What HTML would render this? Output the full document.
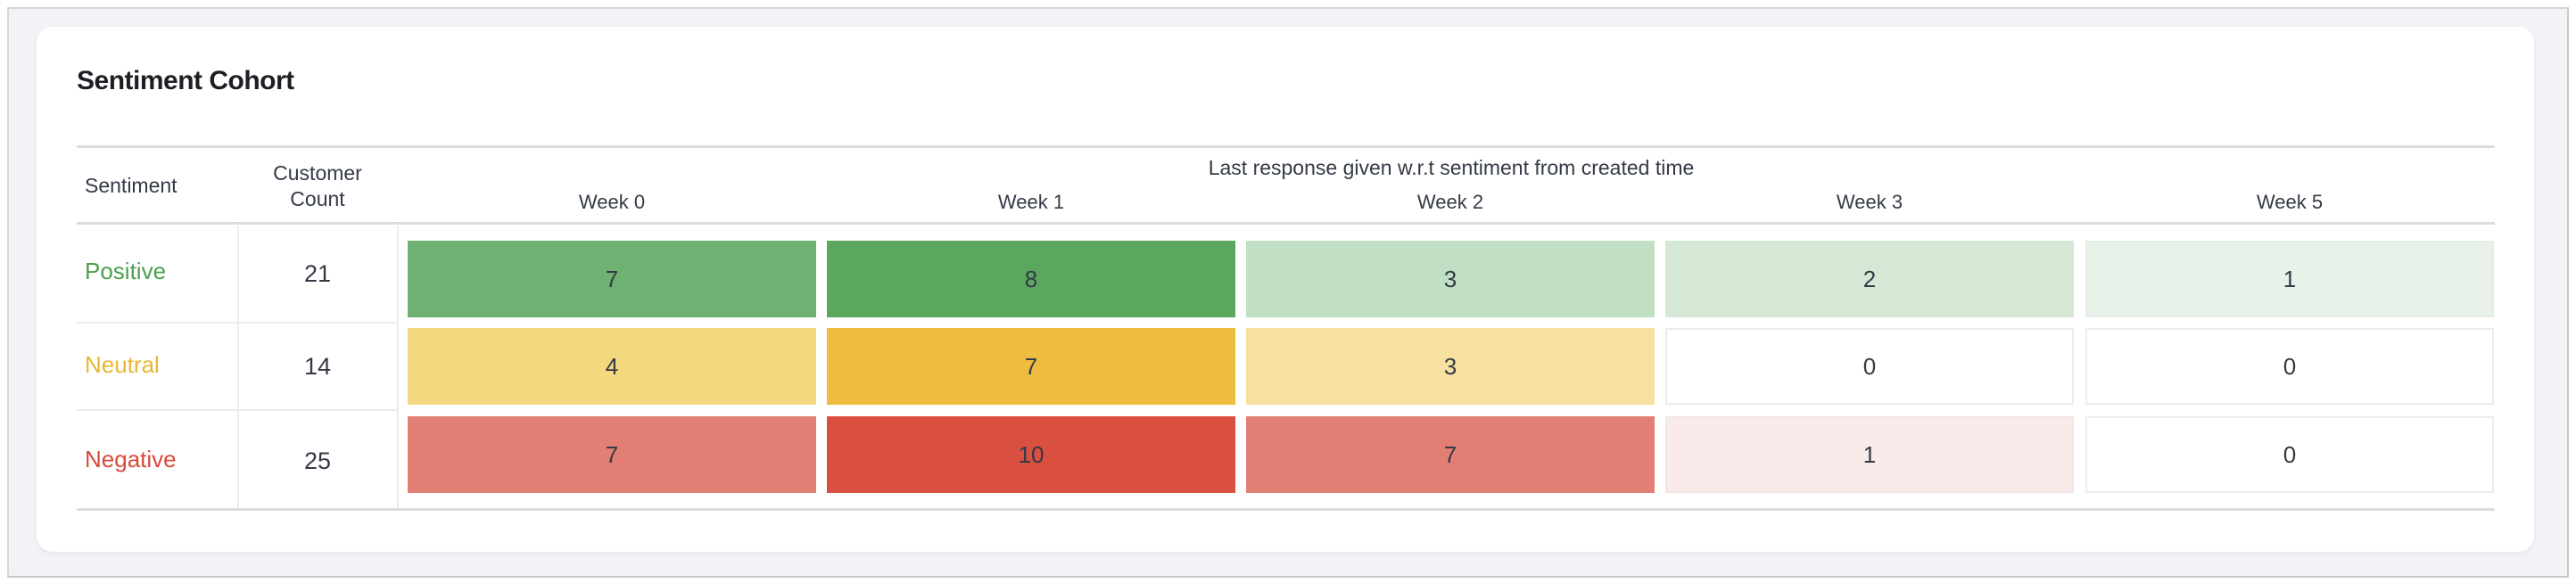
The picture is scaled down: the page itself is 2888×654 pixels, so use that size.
<!DOCTYPE html>
<html><head><meta charset="utf-8"><style>
*{margin:0;padding:0;box-sizing:border-box}
body{width:2888px;height:654px;background:#fff;position:relative;overflow:hidden;font-family:"Liberation Sans",sans-serif;color:#333a46}
.outer{position:absolute;left:8px;top:8px;width:2872px;height:640px;background:#f1f3f7;border:2px solid #d6d6d8;border-right-color:#c8c8ca;border-bottom-color:#c8c8ca}
.card{position:absolute;left:41px;top:30px;width:2800px;height:589px;background:#fff;border-radius:18px;box-shadow:0 2px 6px rgba(0,0,0,.06)}
.t{position:absolute;white-space:nowrap}
.hl{position:absolute;left:86px;width:2711px;height:3px;background:#dcdcdc}
.vl{position:absolute;width:2px;background:#ececec}
.rl{position:absolute;left:86px;width:360px;height:2px;background:#ececec}
.c{position:absolute;width:458px;height:86px;display:flex;align-items:center;justify-content:center;font-size:26px;color:#333a46}
.e{border:2px solid #ececec;background:#fff}
.h{font-size:22px;transform:translateX(-50%);text-align:center}
</style></head><body>
<div class="outer"></div>
<div class="card"></div>
<div class="t" style="left:86px;top:74px;font-size:30px;font-weight:bold;color:#1e1f24;letter-spacing:-0.5px">Sentiment Cohort</div>
<div class="hl" style="top:163px"></div>
<div class="hl" style="top:249px"></div>
<div class="hl" style="top:570px"></div>
<div class="vl" style="left:266px;top:251px;height:319px"></div>
<div class="vl" style="left:445px;top:251px;height:319px"></div>
<div class="rl" style="top:361px"></div>
<div class="rl" style="top:459px"></div>
<div class="t" style="left:95px;top:195px;font-size:23px">Sentiment</div>
<div class="t" style="left:356px;top:180px;font-size:23px;line-height:29px;transform:translateX(-50%);text-align:center">Customer<br>Count</div>
<div class="t" style="left:1627px;top:175px;font-size:23px;transform:translateX(-50%)">Last response given w.r.t sentiment from created time</div>
<div class="t h" style="left:686px;top:214px">Week 0</div>
<div class="t h" style="left:1156px;top:214px">Week 1</div>
<div class="t h" style="left:1626px;top:214px">Week 2</div>
<div class="t h" style="left:2096px;top:214px">Week 3</div>
<div class="t h" style="left:2567px;top:214px">Week 5</div>
<div class="t" style="left:95px;top:289px;font-size:26px;color:#4c9f4f">Positive</div>
<div class="t" style="left:95px;top:394px;font-size:26px;color:#e9b735">Neutral</div>
<div class="t" style="left:95px;top:500px;font-size:26px;color:#d9493c">Negative</div>
<div class="t" style="left:356px;top:292px;font-size:27px;transform:translateX(-50%)">21</div>
<div class="t" style="left:356px;top:396px;font-size:27px;transform:translateX(-50%)">14</div>
<div class="t" style="left:356px;top:502px;font-size:27px;transform:translateX(-50%)">25</div>

<div class="c" style="left:457px;top:270px;background:#6fb172">7</div>
<div class="c" style="left:927px;top:270px;background:#5ca75e">8</div>
<div class="c" style="left:1397px;top:270px;background:#c1dfc3">3</div>
<div class="c" style="left:1867px;top:270px;background:#d4e8d5">2</div>
<div class="c" style="left:2338px;top:270px;background:#e8f2e9;border:2px solid #e4ede5">1</div>

<div class="c" style="left:457px;top:368px;background:#f3d880">4</div>
<div class="c" style="left:927px;top:368px;background:#eebd40">7</div>
<div class="c" style="left:1397px;top:368px;background:#f6e1a0">3</div>
<div class="c e" style="left:1867px;top:368px">0</div>
<div class="c e" style="left:2338px;top:368px">0</div>

<div class="c" style="left:457px;top:467px;background:#e27f74">7</div>
<div class="c" style="left:927px;top:467px;background:#d95040">10</div>
<div class="c" style="left:1397px;top:467px;background:#e27f74">7</div>
<div class="c" style="left:1867px;top:467px;background:#f9ebe9;border:2px solid #f1e6e4">1</div>
<div class="c e" style="left:2338px;top:467px">0</div>
</body></html>
